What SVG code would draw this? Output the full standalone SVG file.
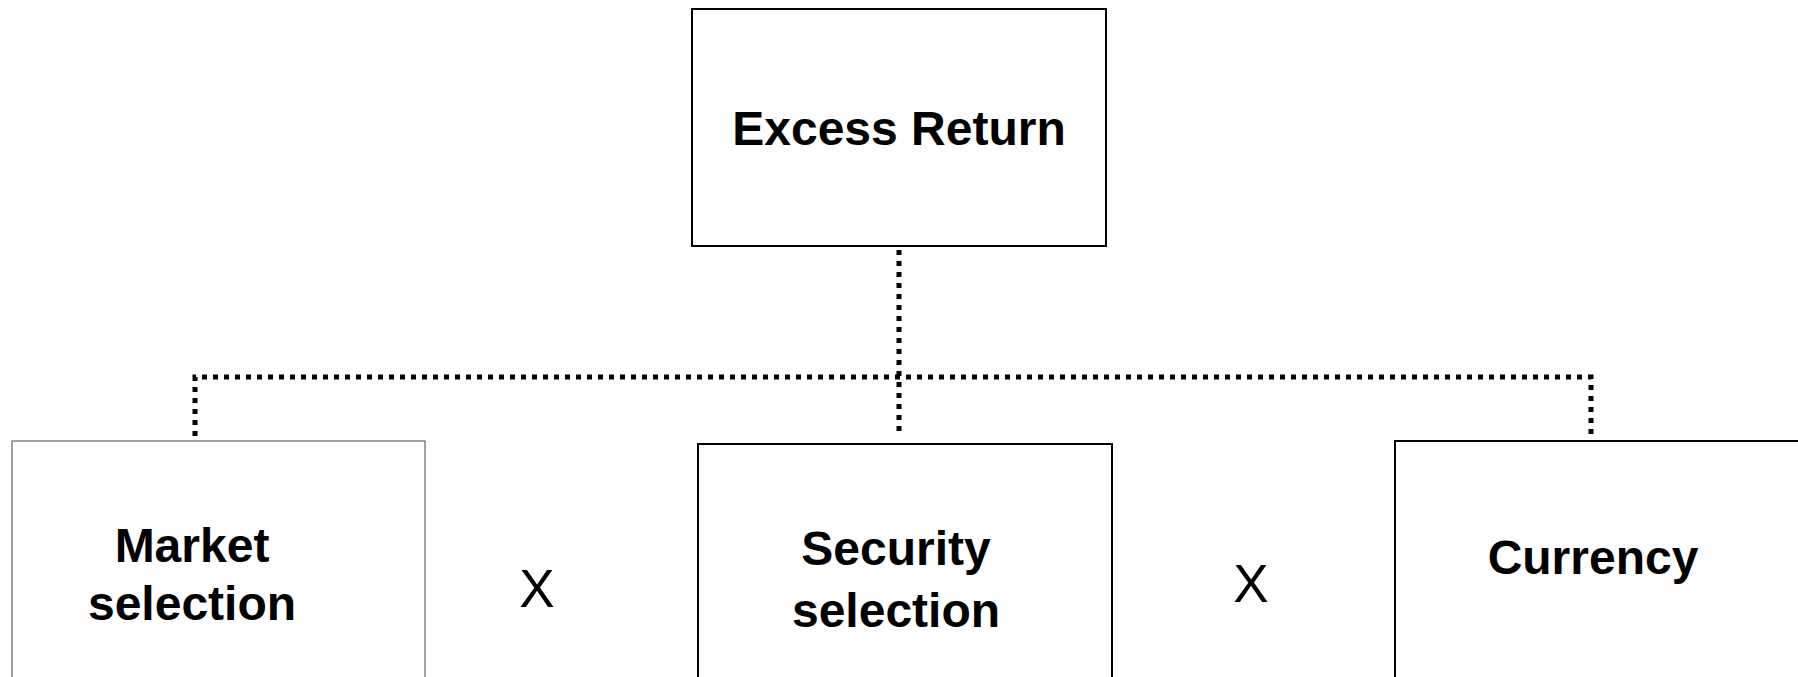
<svg xmlns="http://www.w3.org/2000/svg" width="1798" height="677" viewBox="0 0 1798 677">
<style>
.box{fill:#fff;stroke:#000;stroke-width:2}
.thin{fill:#fff;stroke:#444;stroke-width:1}
.lbl{font-family:"Liberation Sans",Arial,sans-serif;font-weight:bold;font-size:48px;fill:#000;text-anchor:middle}
.op{font-family:"Liberation Sans",Arial,sans-serif;font-size:53px;fill:#000;text-anchor:middle}
.dot{fill:none;stroke:#000;stroke-width:5;stroke-dasharray:5 6}
</style>
<rect width="1798" height="677" fill="#fff"/>
<g id="connectors">
<path class="dot" d="M899 250 V436"/>
<path class="dot" d="M195 436 V377 H1591 V436"/>
</g>
<g id="excess-return">
<rect class="box" x="692" y="9" width="414" height="237"/>
<text class="lbl" x="899" y="145">Excess Return</text>
</g>
<g id="market-selection">
<rect class="thin" x="12" y="441" width="413" height="260"/>
<text class="lbl" x="192" y="562">Market</text>
<text class="lbl" x="192" y="620">selection</text>
</g>
<g id="security-selection">
<rect class="box" x="698" y="444" width="414" height="260"/>
<text class="lbl" x="896" y="565">Security</text>
<text class="lbl" x="896" y="627">selection</text>
</g>
<g id="currency">
<rect class="box" x="1395" y="441" width="420" height="260"/>
<text class="lbl" x="1593" y="574">Currency</text>
</g>
<g id="operators">
<text class="op" x="537" y="607">X</text>
<text class="op" x="1251" y="602">X</text>
</g>
</svg>
